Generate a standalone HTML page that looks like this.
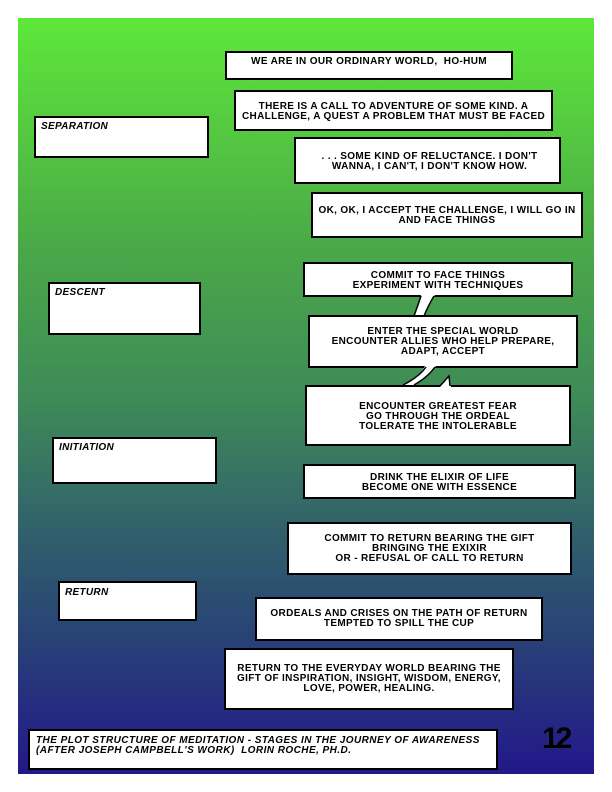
<!DOCTYPE html>
<html>
<head>
<meta charset="utf-8">
<style>
  html, body { margin:0; padding:0; }
  body { width:612px; height:792px; position:relative; background:#ffffff; overflow:hidden;
         font-family:"Liberation Sans", sans-serif; }
  .bg { position:absolute; left:18px; top:18px; width:576px; height:756px;
        background:linear-gradient(to bottom,
          #5ee83a 0%, #4aa848 30.7%, #3e8a58 50.5%, #32646a 66.4%, #284176 82.3%, #22188a 100%); }
  .box { position:absolute; box-sizing:border-box; border:2px solid #000; background:#fff; }
  .t { position:absolute; font-size:10px; line-height:10px; color:#000; text-align:center;
       white-space:nowrap; font-weight:bold; letter-spacing:0.35px; }
  .lab { position:absolute; font-size:10px; line-height:10px; color:#000; font-style:italic;
         white-space:nowrap; font-weight:bold; letter-spacing:0.3px; }
  .foot { letter-spacing:0.45px; }
  .num { position:absolute; left:542px; top:724px; font-size:30px; line-height:30px;
         font-weight:bold; letter-spacing:-3px; color:#000; }
  svg { position:absolute; left:0; top:0; }
</style>
</head>
<body>
<div class="bg"></div>

<!-- right column boxes -->
<div class="box" style="left:225px;top:51px;width:288px;height:29px;"></div>
<div class="box" style="left:234px;top:90px;width:319px;height:41px;"></div>
<div class="box" style="left:294px;top:137px;width:267px;height:47px;"></div>
<div class="box" style="left:311px;top:192px;width:272px;height:46px;"></div>
<div class="box" style="left:303px;top:262px;width:270px;height:35px;"></div>

<svg width="612" height="792" viewBox="0 0 612 792">
  <path d="M421,295 L435,295 Q428,306 424,316 L414,316 Q418,305 421,295 Z" fill="#fff"/>
  <path d="M421,296 Q418,305 414,316" stroke="#000" stroke-width="1.5" fill="none"/>
  <path d="M434,296 Q428,306 424,316" stroke="#000" stroke-width="1.5" fill="none"/>
</svg>

<div class="box" style="left:308px;top:315px;width:270px;height:53px;"></div>

<svg width="612" height="792" viewBox="0 0 612 792">
  <path d="M425,366 L436,366 Q428,377 414,386 L402,386 Q419,377 425,366 Z" fill="#fff"/>
  <path d="M426,367 Q419,377 403,385" stroke="#000" stroke-width="1.5" fill="none"/>
  <path d="M435,367 Q428,377 414,385" stroke="#000" stroke-width="1.5" fill="none"/>
</svg>

<div class="box" style="left:305px;top:385px;width:266px;height:61px;"></div>

<svg width="612" height="792" viewBox="0 0 612 792">
  <path d="M440,387 L449,376 L451,387 Z" fill="#fff"/>
  <path d="M440,386 L449,376 L450,386" stroke="#000" stroke-width="1.5" fill="none"/>
</svg>

<div class="box" style="left:303px;top:464px;width:273px;height:35px;"></div>
<div class="box" style="left:287px;top:522px;width:285px;height:53px;"></div>
<div class="box" style="left:255px;top:597px;width:288px;height:44px;"></div>
<div class="box" style="left:224px;top:648px;width:290px;height:62px;"></div>

<!-- left label boxes -->
<div class="box" style="left:34px;top:116px;width:175px;height:42px;"></div>
<div class="box" style="left:48px;top:282px;width:153px;height:53px;"></div>
<div class="box" style="left:52px;top:437px;width:165px;height:47px;"></div>
<div class="box" style="left:58px;top:581px;width:139px;height:40px;"></div>

<!-- footer -->
<div class="box" style="left:28px;top:729px;width:470px;height:41px;"></div>

<!-- texts -->
<div class="t" style="left:225px;width:288px;top:57px;">WE ARE IN OUR ORDINARY WORLD,&nbsp; HO-HUM</div>
<div class="t" style="left:234px;width:319px;top:102px;">THERE IS A CALL TO ADVENTURE OF SOME KIND. A<br>CHALLENGE, A QUEST A PROBLEM THAT MUST BE FACED</div>
<div class="t" style="left:296px;width:267px;top:152px;">. . . SOME KIND OF RELUCTANCE. I DON'T<br>WANNA, I CAN'T, I DON'T KNOW HOW.</div>
<div class="t" style="left:311px;width:272px;top:206px;">OK, OK, I ACCEPT THE CHALLENGE, I WILL GO IN<br>AND FACE THINGS</div>
<div class="t" style="left:303px;width:270px;top:271px;">COMMIT TO FACE THINGS<br>EXPERIMENT WITH TECHNIQUES</div>
<div class="t" style="left:308px;width:270px;top:327px;">ENTER THE SPECIAL WORLD<br>ENCOUNTER ALLIES WHO HELP PREPARE,<br>ADAPT, ACCEPT</div>
<div class="t" style="left:305px;width:266px;top:402px;">ENCOUNTER GREATEST FEAR<br>GO THROUGH THE ORDEAL<br>TOLERATE THE INTOLERABLE</div>
<div class="t" style="left:303px;width:273px;top:473px;">DRINK THE ELIXIR OF LIFE<br>BECOME ONE WITH ESSENCE</div>
<div class="t" style="left:287px;width:285px;top:534px;">COMMIT TO RETURN BEARING THE GIFT<br>BRINGING THE EXIXIR<br>OR - REFUSAL OF CALL TO RETURN</div>
<div class="t" style="left:255px;width:288px;top:609px;">ORDEALS AND CRISES ON THE PATH OF RETURN<br>TEMPTED TO SPILL THE CUP</div>
<div class="t" style="left:224px;width:290px;top:664px;">RETURN TO THE EVERYDAY WORLD BEARING THE<br>GIFT OF INSPIRATION, INSIGHT, WISDOM, ENERGY,<br>LOVE, POWER, HEALING.</div>

<div class="lab" style="left:41px;top:122px;">SEPARATION</div>
<div class="lab" style="left:55px;top:288px;">DESCENT</div>
<div class="lab" style="left:59px;top:443px;">INITIATION</div>
<div class="lab" style="left:65px;top:588px;">RETURN</div>

<div class="lab foot" style="left:36px;top:736px;">THE PLOT STRUCTURE OF MEDITATION - STAGES IN THE JOURNEY OF AWARENESS<br>(AFTER JOSEPH CAMPBELL'S WORK)&nbsp; LORIN ROCHE, PH.D.</div>

<div class="num">12</div>
</body>
</html>
